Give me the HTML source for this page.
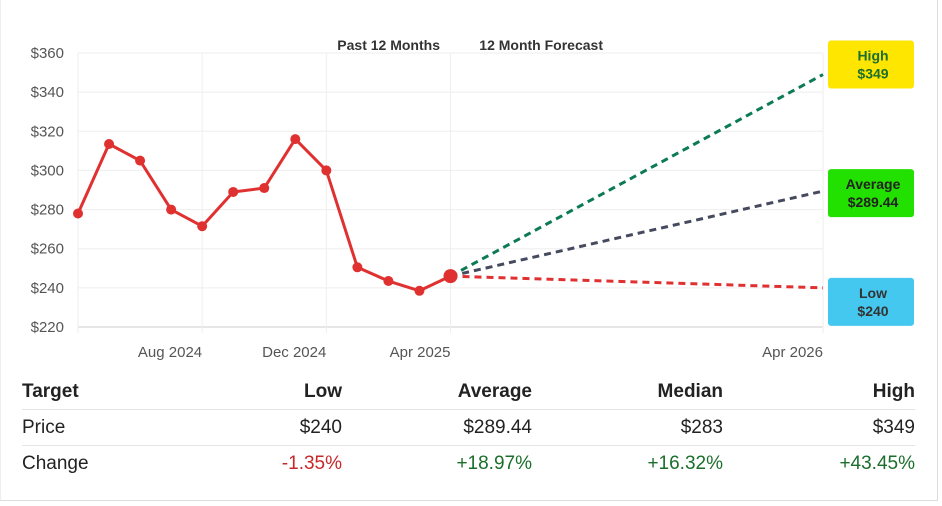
<!DOCTYPE html>
<html><head><meta charset="utf-8"><style>
body{margin:0;width:942px;height:506px;background:#fff;font-family:"Liberation Sans",sans-serif;overflow:hidden;position:relative}
#frame{position:absolute;left:0;top:0;width:936px;height:500px;border-right:1px solid #ddd;border-bottom:1px solid #ddd;border-left:1px solid #eee}
table{position:absolute;left:22px;top:374px;width:893px;border-collapse:collapse;font-size:19px;color:#222;table-layout:fixed}
td,th{height:35px;padding:0;border-bottom:1px solid #e4e4e4}
th{font-weight:bold;text-align:right}
tr:last-child td{border-bottom:none}
.l{text-align:left}.r{text-align:right}
.red{color:#c62828}.grn{color:#1b6e2b}
</style></head><body>
<div id="frame"></div>
<svg id="chart" width="942" height="370" style="position:absolute;left:0;top:0">
<g id="grid"></g><g id="series"></g><g id="labels"></g>
</svg>
<table>
<colgroup><col style="width:170px"><col style="width:150px"><col style="width:190px"><col style="width:191px"><col style="width:192px"></colgroup>
<tr><th class="l">Target</th><th>Low</th><th>Average</th><th>Median</th><th>High</th></tr>
<tr><td class="l">Price</td><td class="r">$240</td><td class="r">$289.44</td><td class="r">$283</td><td class="r">$349</td></tr>
<tr><td class="l">Change</td><td class="r red">-1.35%</td><td class="r grn">+18.97%</td><td class="r grn">+16.32%</td><td class="r grn">+43.45%</td></tr>
</table>
<script>
const pastValues=[278,313.5,305,280,271.5,289,291,316,300,250.5,243.5,238.5,246];
const yTicks=[220,240,260,280,300,320,340,360];
const xTickIdx=[4,8,12,24];
const xTickLabels=["Aug 2024","Dec 2024","Apr 2025","Apr 2026"];
const forecastNames=["High","Average","Low"];
const forecastValues=[349,289.44,240];
const forecastColors=["#0b7a55","#454a5e","#e03131"];
const boxColors=["#ffe600","#22e000","#45c8f0"];
const boxText=["#1b6e2b","#222","#333"];
const boxShift=[-10,2,14];
const NS="http://www.w3.org/2000/svg";
const X0=78,X1=823,Y0=327,Y1=53,vMin=220,vMax=360,nMonths=24;
const x=i=>X0+(X1-X0)*i/nMonths;
const y=v=>Y0-(v-vMin)/(vMax-vMin)*(Y0-Y1);
function mk(tag,attrs,parent){const e=document.createElementNS(NS,tag);for(const k in attrs)e.setAttribute(k,attrs[k]);parent.appendChild(e);return e;}
const grid=document.getElementById('grid'),series=document.getElementById('series'),labels=document.getElementById('labels');
yTicks.forEach(v=>{
 const l=mk('line',{x1:X0,x2:X1,y1:y(v),y2:y(v),stroke:v===vMin?'#ccc':'#eee'},grid);
 
 
 const t=mk('text',{x:64,y:y(v)+5,'text-anchor':'end','font-size':15,fill:'#555'},labels);
 t.textContent='$'+v;
 
 
});
[0].concat(xTickIdx).forEach(i=>{
 const l=mk('line',{x1:x(i),x2:x(i),y1:Y1,y2:Y0+6,stroke:'#eee'},grid);
 
 
});
xTickIdx.forEach((i,k)=>{
 const t=mk('text',{x:x(i),y:357,'text-anchor':'end','font-size':15,fill:'#555'},labels);
 t.textContent=xTickLabels[k];
 
 
});
[["Past 12 Months",440],["12 Month Forecast",603]].forEach(a=>{
 const t=mk('text',{x:a[1],y:50,'text-anchor':'end','font-size':14,'font-weight':'bold',fill:'#333'},labels);
 t.textContent=a[0];
 
 
});
const last=pastValues.length-1;
forecastValues.forEach((v,k)=>{
 const l=mk('line',{x1:x(last),y1:y(pastValues[last]),x2:x(nMonths),y2:y(v),stroke:forecastColors[k],'stroke-width':3,'stroke-dasharray':'7,5'},series);
 
 
 const g=mk('g',{},labels);
 
 
 const cy=y(v)+boxShift[k];
 mk('rect',{x:828,y:cy-24,width:86,height:48,rx:3,fill:boxColors[k]},g);
 const t1=mk('text',{x:873,y:cy-4,'text-anchor':'middle','font-size':14,'font-weight':'bold',fill:boxText[k]},g);
 t1.textContent=forecastNames[k];
 const t2=mk('text',{x:873,y:cy+14,'text-anchor':'middle','font-size':14,'font-weight':'bold',fill:boxText[k]},g);
 t2.textContent='$'+v;
});
const pl=mk('polyline',{points:pastValues.map((v,i)=>x(i)+','+y(v)).join(' '),fill:'none',stroke:'#e03131','stroke-width':3,'stroke-linejoin':'round'},series);


pastValues.forEach((v,i)=>{
 const c=mk('circle',{cx:x(i),cy:y(v),r:i===last?7:5,fill:'#e03131'},series);
 
 
});
</script>
</body></html>
